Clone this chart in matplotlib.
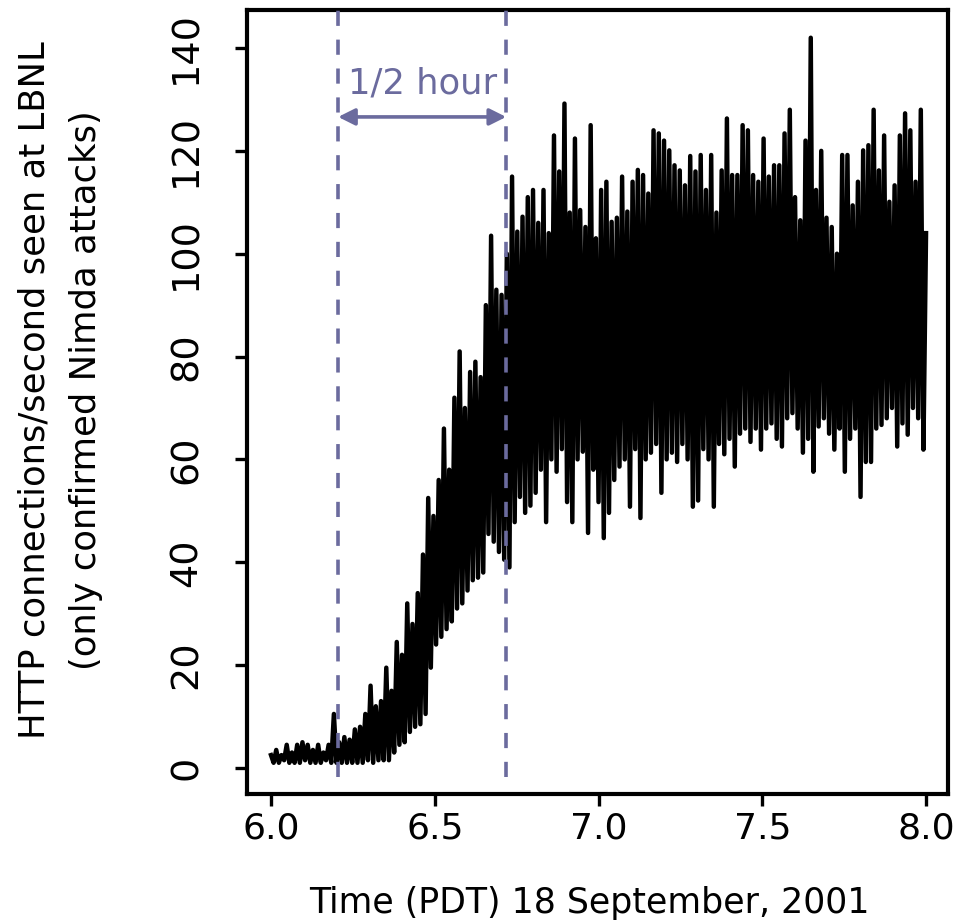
import numpy as np
import matplotlib.pyplot as plt

# time axis: one reading every 0.008 h from 6:00 PDT
start_hour = 6.0
step_hour = 0.008

# connections/second (alternating high / low readings)
baseline_counts = [2.5, 1, 3.5, 1, 2.5, 1.5, 4.5, 1, 3, 1, 4.5, 1, 5,
                   1.5, 4.5, 1, 3.5, 1, 4.5, 1, 3, 1.5, 4.5, 1, 10.5, 1]
onset_counts = [5, 1, 6, 1, 5.5, 1, 7.5, 1, 8, 1, 10.5, 1.5, 16, 1, 12, 1.5,
                13, 1.5]
rise_counts = [19.5, 1.5, 15, 3, 24.5, 4.5, 22, 5, 32, 7, 28, 8, 34, 8.5,
               41.5, 10.5, 52.5, 19.5, 49, 24, 56, 25.5, 66, 27, 58, 28.5,
               72, 31, 81, 32, 70, 34.5, 77, 36.5, 79, 37, 76, 38, 90, 45.5,
               103.5, 44, 93, 42, 92, 40.5, 100, 39, 115]
plateau_troughs = [47.8, 52.7, 49.6, 51, 53.5, 58, 47.8, 60, 57.6, 62, 51.7,
                   47.8, 60, 61.5, 45.7, 58, 51.7, 44.7, 49.6, 56, 58.6, 60,
                   50.8, 62, 48.6, 60, 61.3, 63, 53.5, 60, 61.3, 59.5, 63, 60,
                   50.8, 52, 62, 60, 50.8, 63, 61, 64, 58.6, 65, 66, 63.4, 66,
                   61.9, 66, 67, 64, 62.5, 68, 69, 66, 61.3, 64, 57.6, 66.4,
                   68, 65, 61.9, 66, 57.6, 64, 66, 52.7, 59.5, 59.5, 66, 66.7,
                   68, 70, 62.5, 67, 64.8, 70, 68, 61.9]
plateau_peaks = [104.3, 107.2, 111, 112.4, 106, 112.4, 104, 123, 116, 129.2,
                 108, 122.4, 108.5, 105.2, 125, 103, 112.4, 114, 106.2, 107,
                 115, 108.2, 114, 116.3, 115.3, 111.7, 124, 123.4, 122, 120.1,
                 117.2, 116.2, 113.3, 119, 116, 119.2, 112.4, 119.2, 108,
                 116.2, 126.3, 115.3, 115.3, 125, 124, 115.3, 114, 122.4, 115,
                 117.2, 117.2, 123.4, 128, 111, 106.5, 122, 142, 112.4, 120,
                 107, 105.2, 100, 119.2, 119.2, 109.4, 114, 120.1, 121.1, 128,
                 116.2, 123, 110.1, 113.3, 123, 127.3, 124, 114, 128, 104]

window_hours = [6.205, 6.718]
arrow_level = 126.6
window_label = '1/2 hour'

x_ticks = [6.0, 6.5, 7.0, 7.5, 8.0]
x_labels = ['6.0', '6.5', '7.0', '7.5', '8.0']
y_ticks = [0, 20, 40, 60, 80, 100, 120, 140]

plateau = np.empty(len(plateau_troughs) + len(plateau_peaks))
plateau[0::2] = plateau_troughs
plateau[1::2] = plateau_peaks
counts = np.concatenate([baseline_counts, onset_counts, rise_counts, plateau])
hours = start_hour + step_hour * np.arange(len(counts))

accent = '#6b6b9e'

fig = plt.figure(figsize=(9.54, 9.23), dpi=100)
ax = fig.add_axes([0.2589, 0.1398, 0.7348, 0.8494])

ax.plot(hours, counts, color='black', lw=3.2, zorder=2)

for h in window_hours:
    ax.plot([h, h], [-1.8, 147.4], color=accent, lw=2.6,
            ls=(0, (4.2, 3.8)), zorder=3)

ax.annotate('', xy=(window_hours[0], arrow_level),
            xytext=(window_hours[1], arrow_level),
            arrowprops=dict(arrowstyle='<|-|>', color=accent, lw=2.6,
                            mutation_scale=25, shrinkA=0, shrinkB=0))
ax.text(np.mean(window_hours), 131.2, window_label, color=accent,
        fontsize=25.5, ha='center', va='baseline')

ax.set_xlim(5.9267, 8.067)
ax.set_ylim(-5.06, 147.4)
ax.set_xticks(x_ticks)
ax.set_xticklabels(x_labels)
ax.set_yticks(y_ticks)

for s in ax.spines.values():
    s.set_linewidth(3)
ax.tick_params(direction='out', length=8.5, width=2.4, labelsize=27.5)
ax.tick_params(axis='x', pad=4, labelsize=26)
ax.tick_params(axis='y', labelrotation=90, pad=22)
for lab in ax.get_yticklabels():
    lab.set_va('center')

# axis titles
fig.text(589 / 954, 1 - 913 / 923, 'Time (PDT) 18 September, 2001',
         fontsize=25, ha='center', va='baseline')
fig.text(45 / 954, 1 - 390 / 923, 'HTTP connections/second seen at LBNL',
         fontsize=25.5, rotation=90, rotation_mode='anchor',
         ha='center', va='baseline')
fig.text(96 / 954, 1 - 390 / 923, '(only confirmed Nimda attacks)',
         fontsize=25.5, rotation=90, rotation_mode='anchor',
         ha='center', va='baseline')

fig.savefig('out.png', dpi=100)
